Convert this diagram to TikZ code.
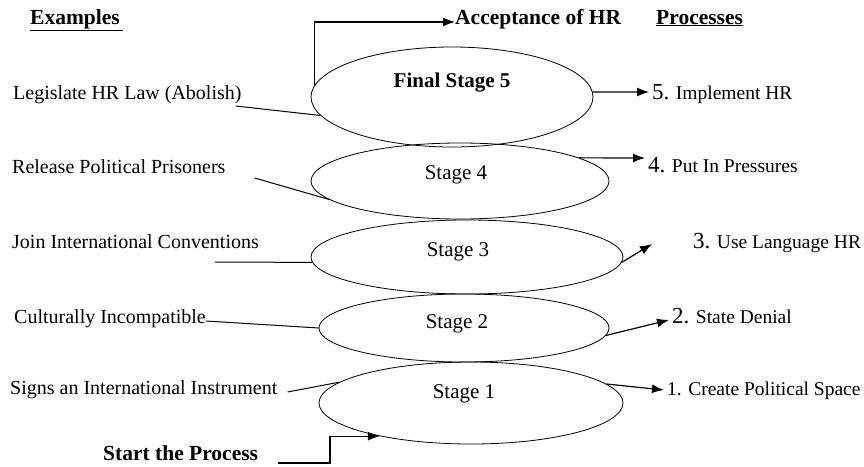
\documentclass[tikz,border=0pt]{standalone}
\usepackage{fontspec}
\setmainfont{Liberation Serif}
\usetikzlibrary{shapes.geometric,arrows.meta}
\tikzset{
    stage/.style={draw, ellipse, inner sep=0pt, line width=0.8pt},
    stagetext/.style={font=\fontsize{21}{24}\selectfont},
    example/.style={anchor=west, inner sep=0pt, text height=14pt, text depth=4pt, font=\fontsize{20}{24}\selectfont},
    process/.style={anchor=west, inner xsep=3pt, inner ysep=0pt, text height=14pt, text depth=4pt, font=\fontsize{19.5}{24}\selectfont},
    heading/.style={anchor=west, inner sep=0pt, text height=15pt, text depth=5pt, font=\fontsize{21.5}{26}\selectfont\bfseries},
    link/.style={line width=1pt},
    flow/.style={line width=1.2pt, -{Latex[length=12pt,width=9pt]}},
}
\newcommand{\stepnum}[1]{{\fontsize{23}{26}\selectfont #1}}

\begin{document}
\begin{tikzpicture}[x=1pt, y=-1pt]
\useasboundingbox (0,0) rectangle (864,466);

\node[stage, minimum width=282pt, minimum height=100pt] (s5) at (452,97) {};
\node[stage, minimum width=298pt, minimum height=76pt] (s4) at (460,181) {};
\node[stage, minimum width=312pt, minimum height=74pt] (s3) at (467,257) {};
\node[stage, minimum width=290pt, minimum height=68pt] (s2) at (464,328) {};
\node[stage, minimum width=304pt, minimum height=82pt] (s1) at (471,403) {};

\node[stagetext, font=\fontsize{21}{24}\selectfont\bfseries] (t5) at (452,83) {Final Stage 5};
\node[stagetext] (t4) at (456,175) {Stage 4};
\node[stagetext] (t3) at (458,252) {Stage 3};
\node[stagetext] (t2) at (457,324) {Stage 2};
\node[stagetext] (t1) at (464,394) {Stage 1};

\node[heading] (ex) at (30,19) {\underline{Examples\hspace{3pt}}};
\node[heading] (pr) at (656,19) {\underline{Processes}};
\node[heading] (acc) at (455,19) {Acceptance of HR};
\node[heading] (start) at (103,455) {Start the Process};

\node[example] (leg) at (13,94) {Legislate HR Law (Abolish)};
\node[example] (rel) at (12,168) {Release Political Prisoners};
\node[example] (join) at (12,243) {Join International Conventions};
\node[example] (cult) at (14,318) {Culturally Incompatible};
\node[example] (sign) at (10,389) {Signs an International Instrument};

\node[process] (p5) at (649,94) {\stepnum{5.} Implement HR};
\node[process] (p4) at (645,167) {\stepnum{4.} Put In Pressures};
\node[process] (p3) at (690,243) {\stepnum{3.} Use Language HR};
\node[process] (p2) at (669,318) {\stepnum{2.} State Denial};
\node[process] (p1) at (664,390) {1. Create Political Space};

\draw[link] ([xshift=-6pt,yshift=-12pt]leg.east) -- (s5.188);
\draw[link] ([xshift=29pt,yshift=-10pt]rel.east) -- (s4.188);
\draw[link] ([xshift=-44pt,yshift=-19pt]join.east) -- (s3.182);
\draw[link] ([yshift=-3pt]cult.east) -- (s2.west);
\draw[link] ([xshift=10pt,yshift=-3pt]sign.east) -- (s1.171);

\coordinate (e3) at (652,244);
\coordinate (st) at (278,463);
\draw[flow] (s5.2) -- ([yshift=2pt]p5.west);
\draw[flow] (s4.11) -- ([yshift=9pt]p4.west);
\draw[flow] (s3.-2) -- (e3);
\draw[flow] (s2.-3) -- ([yshift=-2pt]p2.west);
\draw[flow] (s1.8) -- (p1.west);
\draw[flow] (s5.175) |- ([yshift=-3pt]acc.west);
\draw[flow] (st) -- ++(52,0) |- (s1.200);
\end{tikzpicture}
\end{document}
